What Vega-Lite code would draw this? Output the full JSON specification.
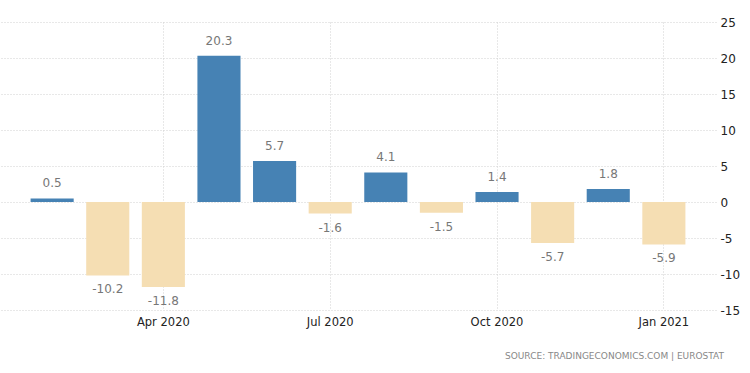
{
  "$schema": "https://vega.github.io/schema/vega-lite/v6.json",
  "width": 716,
  "height": 288,
  "autosize": {"type": "none"},
  "padding": {"top": 22, "left": 0, "right": 34, "bottom": 63},
  "background": "white",
  "config": {
    "view": {"stroke": null},
    "font": "DejaVu Sans",
    "title": {"font": "DejaVu Sans"},
    "locale": {
      "number": {
        "decimal": ".",
        "thousands": ",",
        "grouping": [3],
        "currency": ["$", ""],
        "minus": "-"
      }
    }
  },
  "title": {
    "text": "SOURCE: TRADINGECONOMICS.COM  |  EUROSTAT",
    "orient": "bottom",
    "anchor": "end",
    "frame": "group",
    "fontSize": 9,
    "fontWeight": "normal",
    "color": "#888888",
    "offset": 24,
    "dx": 8
  },
  "data": {
    "values": [
      {"month": "Feb 2020", "value": 0.5},
      {"month": "Mar 2020", "value": -10.2},
      {"month": "Apr 2020", "value": -11.8},
      {"month": "May 2020", "value": 20.3},
      {"month": "Jun 2020", "value": 5.7},
      {"month": "Jul 2020", "value": -1.6},
      {"month": "Aug 2020", "value": 4.1},
      {"month": "Sep 2020", "value": -1.5},
      {"month": "Oct 2020", "value": 1.4},
      {"month": "Nov 2020", "value": -5.7},
      {"month": "Dec 2020", "value": 1.8},
      {"month": "Jan 2021", "value": -5.9}
    ]
  },
  "encoding": {
    "x": {
      "field": "month",
      "type": "ordinal",
      "sort": null,
      "scale": {"paddingInner": 0.225, "paddingOuter": 0.55},
      "axis": {
        "title": null,
        "values": ["Apr 2020", "Jul 2020", "Oct 2020", "Jan 2021"],
        "labelAngle": 0,
        "labelFontSize": 11.5,
        "labelColor": "#222222",
        "labelPadding": 6,
        "ticks": false,
        "domain": false,
        "grid": true,
        "bandPosition": 0.5,
        "gridColor": "#d0d0d0",
        "gridDash": [1, 2],
        "gridWidth": 1
      }
    },
    "y": {
      "field": "value",
      "type": "quantitative",
      "scale": {"domain": [-15, 25], "nice": false},
      "axis": {
        "orient": "right",
        "title": null,
        "values": [-15, -10, -5, 0, 5, 10, 15, 20, 25],
        "labelFontSize": 12,
        "labelColor": "#222222",
        "labelPadding": 4,
        "ticks": false,
        "domain": false,
        "gridColor": "#d0d0d0",
        "gridDash": [1, 2],
        "gridWidth": 1
      }
    }
  },
  "layer": [
    {
      "mark": {"type": "bar"},
      "encoding": {
        "color": {
          "condition": {"test": "datum.value >= 0", "value": "#4682b4"},
          "value": "#f5deb3"
        }
      }
    },
    {
      "mark": {
        "type": "text",
        "fontSize": 12,
        "color": "#777777",
        "baseline": {"expr": "datum.value >= 0 ? 'bottom' : 'top'"},
        "dy": {"expr": "datum.value >= 0 ? -8 : 9"}
      },
      "encoding": {
        "text": {"field": "value", "type": "quantitative", "format": ".1f"}
      }
    }
  ]
}
